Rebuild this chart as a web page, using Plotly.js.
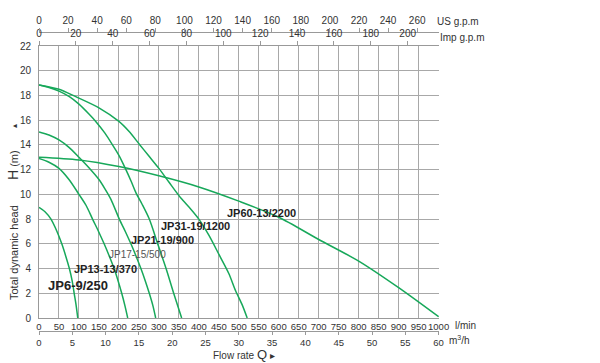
<!DOCTYPE html>
<html>
<head>
<meta charset="utf-8">
<script src="https://cdn.plot.ly/plotly-3.0.1.min.js"></script>
<style>html,body{margin:0;padding:0;background:#fff;}#chart{width:600px;height:363px;}</style>
</head>
<body>
<div id="chart"></div>
<script>
// ---- Data (flow in l/min, head in m) ----
const seriesNames = ["JP6-9/250", "JP13-13/370", "JP17-15/500", "JP21-19/900", "JP31-19/1200", "JP60-13/2200"];
const flowJP6  = [0, 15, 30, 45, 57, 67, 76, 83, 88, 93, 97];
const headJP6  = [8.95, 8.6, 8.0, 7.0, 6.0, 5.0, 4.0, 3.0, 2.0, 1.0, 0];
const flowJP13 = [0, 25, 50, 75, 100, 118, 134, 149, 163, 176, 188, 198, 207, 215, 222];
const headJP13 = [12.9, 12.6, 12.1, 11.2, 10.0, 9.1, 8.0, 7.0, 6.0, 5.0, 4.0, 3.0, 2.0, 1.0, 0];
const flowJP17 = [0, 25, 50, 75, 100, 125, 150, 165, 180, 201, 216, 230, 243, 255, 266, 276, 285, 292];
const headJP17 = [15.05, 14.8, 14.4, 13.8, 13.0, 12.15, 11.2, 10.45, 9.6, 8.0, 7.0, 6.0, 5.0, 4.0, 3.0, 2.0, 1.0, 0];
const flowJP21 = [0, 25, 50, 76, 100, 125, 142, 165, 184, 200, 216, 230, 243, 258, 276, 297, 318, 337, 357];
const headJP21 = [18.85, 18.65, 18.35, 17.9, 17.3, 16.5, 15.9, 14.95, 14.0, 13.15, 12.1, 11.1, 10.1, 9.2, 8.0, 6.0, 4.0, 2.0, 0];
const flowJP31 = [0, 50, 92, 150, 200, 225, 250, 275, 300, 325, 355, 380, 400, 425, 451, 475, 492, 508, 521];
const headJP31 = [18.85, 18.5, 17.9, 17.0, 15.9, 15.1, 14.1, 13.1, 12.1, 11.0, 9.7, 8.8, 8.0, 6.7, 5.1, 3.6, 2.2, 1.1, 0];
const flowJP60 = [0, 100, 200, 300, 400, 500, 600, 700, 800, 900, 1000];
const headJP60 = [13.0, 12.78, 12.25, 11.5, 10.6, 9.45, 8.15, 6.35, 4.6, 2.45, 0.1];

const flows = [flowJP6, flowJP13, flowJP17, flowJP21, flowJP31, flowJP60];
const heads = [headJP6, headJP13, headJP17, headJP21, headJP31, headJP60];

// ---- Axis ticks ----
const lminTicks = [0,50,100,150,200,250,300,350,400,450,500,550,600,650,700,750,800,850,900,950,1000];
const m3hTicks  = [0,5,10,15,20,25,30,35,40,45,50,55,60];
const usTicks   = [0,20,40,60,80,100,120,140,160,180,200,220,240,260];
const impTicks  = [0,20,40,60,80,100,120,140,160,180,200];
const headTicks = [0,2,4,6,8,10,12,14,16,18,20,22];

// ---- Curve labels (anchor points in data coords: flow, head) ----
const labelText  = ["JP6-9/250", "JP13-13/370", "JP17-15/500", "JP21-19/900", "JP31-19/1200", "JP60-13/2200"];
const labelFlow  = [97, 167, 246, 309, 391, 557];
const labelHead  = [2.6, 3.95, 5.1, 6.3, 7.45, 8.5];
const labelBold  = [true, true, false, true, true, true];
const labelSize  = [13, 11, 10, 11, 11, 11];

const green = '#17a85a';
const fontFam = '"Liberation Sans", Arial, sans-serif';

const traces = flows.map((f, i) => ({
  x: f, y: heads[i], type: 'scatter', mode: 'lines', name: seriesNames[i],
  line: {color: green, width: 1.5, shape: 'spline', smoothing: 0.8},
  xaxis: 'x', yaxis: 'y', hoverinfo: 'skip'
}));
// invisible helpers so secondary axes are drawn
traces.push({x: [0], y: [0], xaxis: 'x2', yaxis: 'y', mode: 'markers', marker: {opacity: 0}, hoverinfo: 'skip'});
traces.push({x: [0], y: [0], xaxis: 'x3', yaxis: 'y', mode: 'markers', marker: {opacity: 0}, hoverinfo: 'skip'});
traces.push({x: [0], y: [0], xaxis: 'x4', yaxis: 'y', mode: 'markers', marker: {opacity: 0}, hoverinfo: 'skip'});

const tickFont = {family: fontFam, size: 10, color: '#333'};
const smallTickFont = {family: fontFam, size: 9.5, color: '#333'};
const gridCol = '#a8a8a8';

const annotations = labelText.map((t, i) => ({
  x: labelFlow[i], y: labelHead[i], xref: 'x', yref: 'y', showarrow: false,
  text: labelBold[i] ? '<b>' + t + '</b>' : t,
  font: {family: fontFam, size: labelSize[i], color: labelBold[i] ? '#222' : '#555'}
}));
const W = 400, H = 323; // plot width, paper height
const px2x = px => (px - 39) / W;
const py2y = py => (343 - py) / H;
const paperAnn = (px, py, text, size, extra) => Object.assign({
  x: px2x(px), y: py2y(py), xref: 'paper', yref: 'paper', showarrow: false, text: text,
  font: {family: fontFam, size: size, color: '#333'}, xanchor: 'left', yanchor: 'middle'
}, extra || {});
annotations.push(paperAnn(453, 325, 'l/min', 10));
annotations.push(paperAnn(447, 340, 'm<sup>3</sup>/h', 10));
annotations.push(paperAnn(435, 21, 'US g.p.m', 10));
annotations.push(paperAnn(438, 37, 'Imp g.p.m', 10));
annotations.push(paperAnn(211, 354, 'Flow rate <span style="font-size:13px">Q</span> ▸', 10));
annotations.push(paperAnn(14, 253, 'Total dynamic head', 11, {textangle: -90, xanchor: 'center'}));
annotations.push(paperAnn(13, 165, '<span style="font-size:14px">H</span> (m)', 11, {textangle: -90, xanchor: 'center'}));
annotations.push(paperAnn(14, 126, '▴', 8, {textangle: -90, xanchor: 'center'}));

const layout = {
  width: 600, height: 363,
  margin: {l: 39, r: 161, t: 20, b: 20, pad: 0},
  paper_bgcolor: '#fff', plot_bgcolor: '#fff',
  showlegend: false,
  xaxis: {
    range: [0, 1001], tickvals: lminTicks, ticktext: lminTicks.map(String), tickangle: 0,
    showgrid: true, gridcolor: gridCol, gridwidth: 1, zeroline: false,
    showline: true, linecolor: '#999', linewidth: 1, ticks: '',
    tickfont: smallTickFont, anchor: 'y', fixedrange: true
  },
  xaxis2: {
    range: [0, 60.06], overlaying: 'x', anchor: 'free', position: py2y(331), side: 'bottom',
    tickvals: m3hTicks, ticktext: m3hTicks.map(String), tickangle: 0, showgrid: false, zeroline: false,
    showline: true, linecolor: '#999', ticks: 'outside', ticklen: 3, tickcolor: '#999',
    tickfont: smallTickFont
  },
  xaxis3: {
    range: [0, 217], overlaying: 'x', anchor: 'y', side: 'top',
    tickvals: impTicks, ticktext: impTicks.map(String), tickangle: 0, showgrid: false, zeroline: false,
    showline: true, linecolor: '#999', ticks: 'outside', ticklen: 4, tickcolor: '#999',
    tickfont: tickFont
  },
  xaxis4: {
    range: [0, 275], overlaying: 'x', anchor: 'free', position: py2y(32), side: 'top',
    tickvals: usTicks, ticktext: usTicks.map(String), tickangle: 0, showgrid: false, zeroline: false,
    showline: true, linecolor: '#999', ticks: 'outside', ticklen: 4, tickcolor: '#999',
    tickfont: tickFont
  },
  yaxis: {
    range: [0, 22], domain: [py2y(318), py2y(46)], tickvals: headTicks, ticktext: headTicks.map(String),
    showgrid: true, gridcolor: gridCol, gridwidth: 1, zeroline: false,
    showline: true, linecolor: '#999', ticks: '', ticklabelstandoff: 5,
    tickfont: tickFont, fixedrange: true
  },
  annotations: annotations
};

Plotly.newPlot('chart', traces, layout, {staticPlot: true, displayModeBar: false});
</script>
</body>
</html>
